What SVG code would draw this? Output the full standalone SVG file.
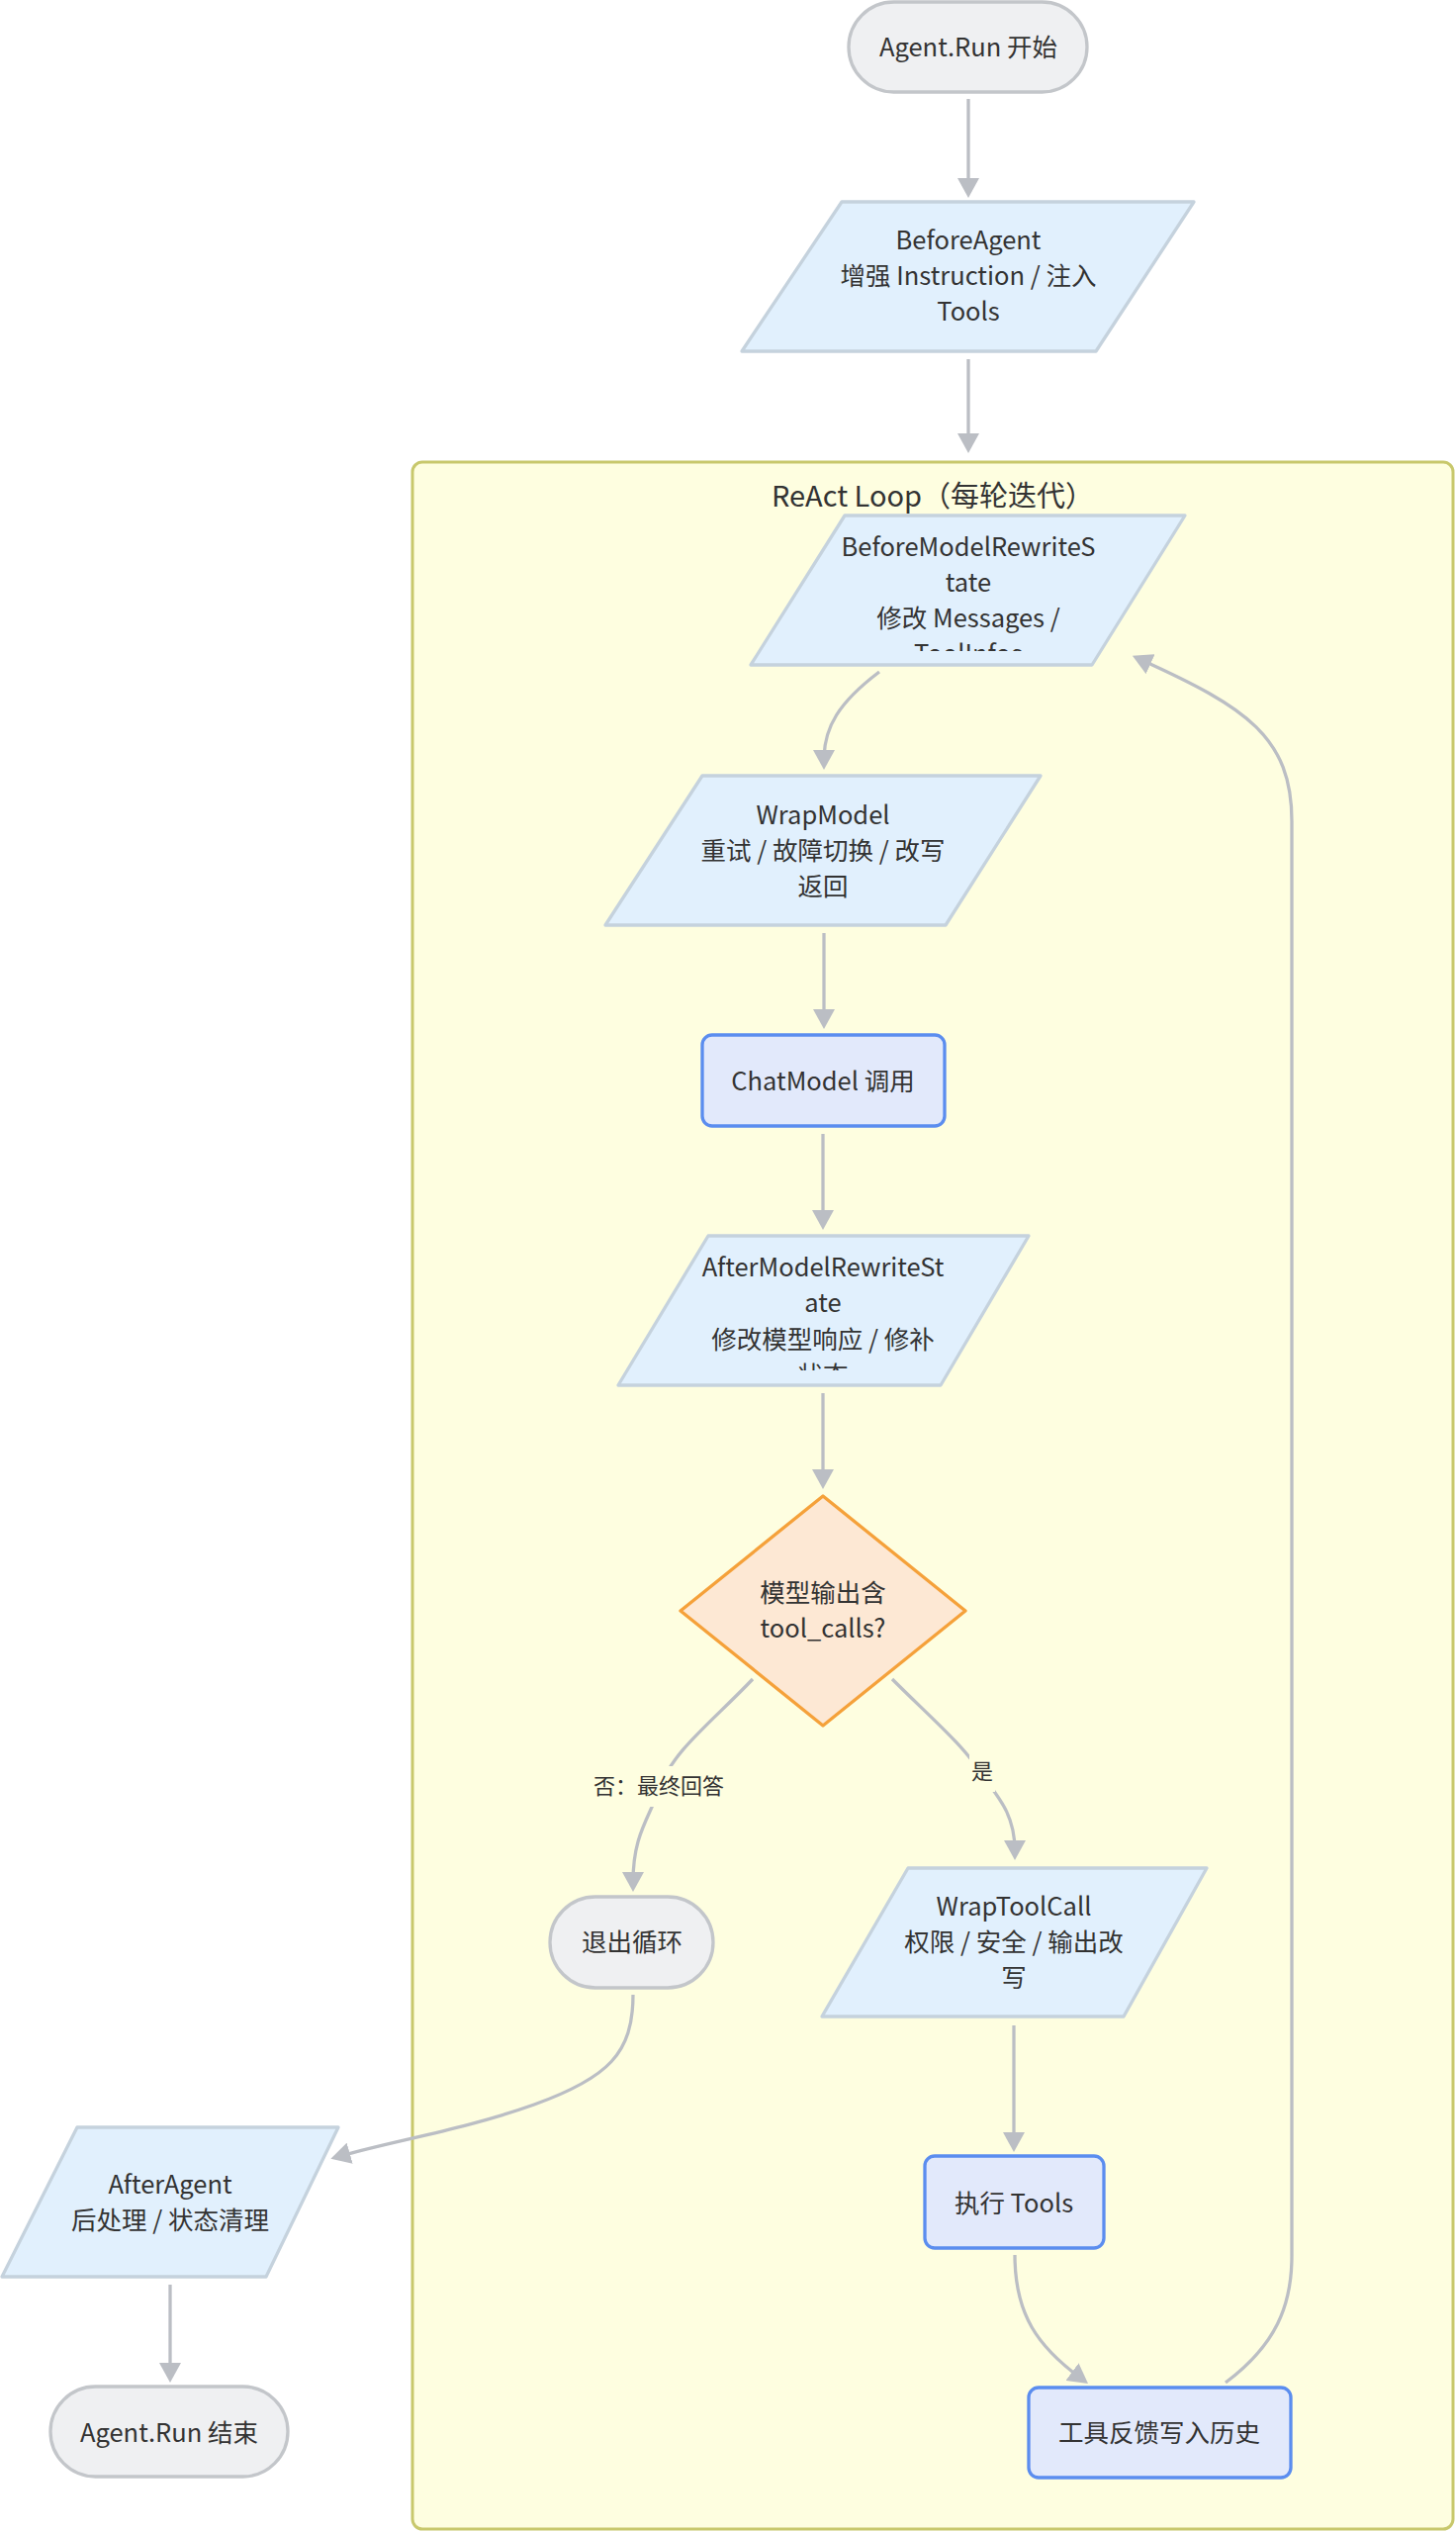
<svg xmlns="http://www.w3.org/2000/svg" width="1472" height="2560" viewBox="0 0 1472 2560">
<style>
text{font-family:"Noto Sans CJK SC","Noto Sans",sans-serif;fill:#333;text-anchor:middle}
.t{font-size:25.5px}
.lbl{font-size:22px}
.title{font-size:29px}
.pill{fill:#eff0f2;stroke:#c3c6ca;stroke-width:3.3}
.io{fill:#e1f0fd;stroke:#c5d2dd;stroke-width:3.3;stroke-linejoin:round}
.proc{fill:#e2e9fb;stroke:#5b8def;stroke-width:3.3}
.dec{fill:#fde8d4;stroke:#f5a13a;stroke-width:3.3;stroke-linejoin:round}
.edge{fill:none;stroke:#bbbec4;stroke-width:3.3}
.lblbg{fill:#fefee0}
</style>
<defs>
<marker id="arr" markerUnits="userSpaceOnUse" markerWidth="20" markerHeight="22" refX="10" refY="11" orient="auto">
<path d="M0,0 L20,11 L0,22 z" fill="#bbbec4"/>
</marker>
<clipPath id="clipA"><rect x="700" y="500" width="560" height="158"/></clipPath>
<clipPath id="clipB"><rect x="600" y="1240" width="480" height="145"/></clipPath>
</defs>
<rect width="1472" height="2560" fill="#ffffff"/>
<g id="cluster-react">
<rect x="417" y="467" width="1052" height="2089" rx="10" fill="#fefee0" stroke="#c8c86c" stroke-width="3"/>
<text class="title" x="943" y="512">ReAct Loop（每轮迭代）</text>
</g>
<g id="edges">
<path class="edge" d="M979 100 L979 190" marker-end="url(#arr)"/>
<path class="edge" d="M979 363 L979 448" marker-end="url(#arr)"/>
<path class="edge" d="M889 679 C 848 710, 833 735, 833 768" marker-end="url(#arr)"/>
<path class="edge" d="M833 943 L833 1030" marker-end="url(#arr)"/>
<path class="edge" d="M832 1146 L832 1233" marker-end="url(#arr)"/>
<path class="edge" d="M832 1408 L832 1495" marker-end="url(#arr)"/>
<path class="edge" d="M761 1697 C 720 1740, 680 1770, 668 1805 C 655 1840, 640 1855, 640 1902" marker-end="url(#arr)"/>
<path class="edge" d="M902 1697 C 940 1735, 975 1765, 990 1790 C 1005 1812, 1026 1830, 1026 1870" marker-end="url(#arr)"/>
<path class="edge" d="M1025 2047 L1025 2165" marker-end="url(#arr)"/>
<path class="edge" d="M1026 2279 C 1026 2340, 1050 2372, 1092 2403" marker-end="url(#arr)"/>
<path class="edge" d="M640 2016 C 640 2075, 615 2100, 540 2127 C 470 2152, 400 2163, 344 2179" marker-end="url(#arr)"/>
<path class="edge" d="M172 2309 L172 2398" marker-end="url(#arr)"/>
<path class="edge" d="M1239 2408 C 1290 2370, 1306 2330, 1306 2280 L1306 830 C 1306 745, 1260 715, 1154 667" marker-end="url(#arr)"/>
<rect class="lblbg" x="601" y="1785" width="130" height="41"/>
<text class="lbl" x="666" y="1813">否：最终回答</text>
<rect class="lblbg" x="980" y="1770" width="26" height="41"/>
<text class="lbl" x="993" y="1798">是</text>
</g>
<g id="node-start">
<rect class="pill" x="858" y="2" width="241" height="91" rx="45.5"/>
<text class="t" x="979" y="57">Agent.Run 开始</text>
</g>
<g id="node-beforeagent">
<polygon class="io" points="851,204 1207,204 1108,355 750,355"/>
<text class="t" x="979" y="252">BeforeAgent</text>
<text class="t" x="979" y="288">增强 Instruction / 注入</text>
<text class="t" x="979" y="324">Tools</text>
</g>
<g id="node-beforemodel">
<polygon class="io" points="854,521 1198,521 1104,672 759,672"/>
<g clip-path="url(#clipA)">
<text class="t" x="979" y="562">BeforeModelRewriteS</text>
<text class="t" x="979" y="598">tate</text>
<text class="t" x="979" y="634">修改 Messages /</text>
<text class="t" x="979" y="670">ToolInfos</text>
</g>
</g>
<g id="node-wrapmodel">
<polygon class="io" points="710,784 1052,784 956,935 612,935"/>
<text class="t" x="832" y="833">WrapModel</text>
<text class="t" x="832" y="869">重试 / 故障切换 / 改写</text>
<text class="t" x="832" y="905">返回</text>
</g>
<g id="node-chatmodel">
<rect class="proc" x="710" y="1046" width="245" height="92" rx="10"/>
<text class="t" x="832" y="1102">ChatModel 调用</text>
</g>
<g id="node-aftermodel">
<polygon class="io" points="716,1249 1040,1249 951,1400 625,1400"/>
<g clip-path="url(#clipB)">
<text class="t" x="832" y="1290">AfterModelRewriteSt</text>
<text class="t" x="832" y="1326">ate</text>
<text class="t" x="832" y="1363">修改模型响应 / 修补</text>
<text class="t" x="832" y="1399">状态</text>
</g>
</g>
<g id="node-decision">
<polygon class="dec" points="832,1512 976,1628 832,1744 688,1628"/>
<text class="t" x="832" y="1619">模型输出含</text>
<text class="t" x="832" y="1655">tool_calls?</text>
</g>
<g id="node-exit">
<rect class="pill" x="556" y="1917" width="165" height="92" rx="46"/>
<text class="t" x="639" y="1972">退出循环</text>
</g>
<g id="node-wraptoolcall">
<polygon class="io" points="918,1888 1220,1888 1136,2038 831,2038"/>
<text class="t" x="1025" y="1936">WrapToolCall</text>
<text class="t" x="1025" y="1972">权限 / 安全 / 输出改</text>
<text class="t" x="1025" y="2008">写</text>
</g>
<g id="node-exec">
<rect class="proc" x="935" y="2179" width="181" height="93" rx="10"/>
<text class="t" x="1025" y="2236">执行 Tools</text>
</g>
<g id="node-feedback">
<rect class="proc" x="1040" y="2413" width="265" height="91" rx="10"/>
<text class="t" x="1172" y="2468">工具反馈写入历史</text>
</g>
<g id="node-afteragent">
<polygon class="io" points="78,2150 342,2150 269,2301 2,2301"/>
<text class="t" x="172" y="2217">AfterAgent</text>
<text class="t" x="172" y="2253">后处理 / 状态清理</text>
</g>
<g id="node-end">
<rect class="pill" x="51" y="2412" width="240" height="91" rx="45.5"/>
<text class="t" x="171" y="2468">Agent.Run 结束</text>
</g>
</svg>
